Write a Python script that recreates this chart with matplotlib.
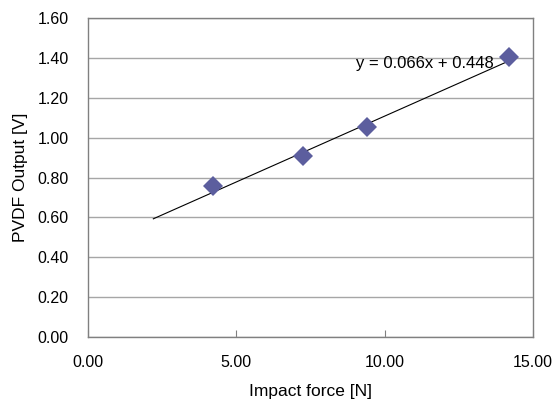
import matplotlib
matplotlib.use('Agg')
import matplotlib.pyplot as plt
import numpy as np

###### DATA ######
force = [4.21, 7.26, 9.40, 14.19]      # impact force [N]
output = [0.757, 0.910, 1.055, 1.404]  # PVDF output [V]
slope, intercept = 0.066, 0.448         # trendline from the chart
fit_x = [2.2, 14.4]
eq_text = 'y = 0.066x + 0.448'

plt.rcParams['font.family'] = ['Liberation Sans', 'DejaVu Sans']
plt.rcParams['font.size'] = 11.5

fig = plt.figure(figsize=(5.54, 3.99), dpi=100)
ax = fig.add_axes([0.159, 0.155, 0.803, 0.800])

# gridlines
ax.set_axisbelow(True)
ax.yaxis.grid(True, color='#a6a6a6', linewidth=1.0)

fx = np.array(fit_x)
ax.plot(fx, slope*fx + intercept, color='black', linewidth=0.8, zorder=2)
ax.plot(force, output, 'D', color='#5c5e9e', markersize=10, markeredgewidth=0, zorder=3)
ax.text(9.05, 1.372, eq_text, fontsize=12, va='center', ha='left')

ax.set_xlim(0, 15)
ax.set_ylim(0, 1.6)
ax.set_xticks([0, 5, 10, 15])
ax.set_yticks(np.arange(0, 1.61, 0.2))
ax.set_xticklabels(['%.2f' % v for v in [0, 5, 10, 15]])
ax.set_yticklabels(['%.2f' % v for v in np.arange(0, 1.61, 0.2)])
ax.tick_params(axis='x', direction='in', length=5, color='#808080', pad=13)
ax.tick_params(axis='y', length=0, pad=14)
for s in ax.spines.values():
    s.set_color('#808080')
    s.set_linewidth(1.0)

ax.set_xlabel('Impact force [N]', fontsize=12.5, labelpad=10)
ax.set_ylabel('PVDF Output [V]', fontsize=12.5, labelpad=7)

fig.savefig('out.png', dpi=100)
